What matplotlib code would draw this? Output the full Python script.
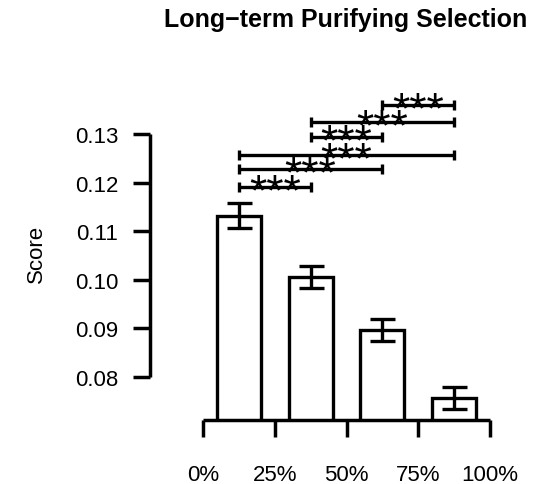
import matplotlib
matplotlib.use("Agg")
import matplotlib.pyplot as plt

plt.rcParams['font.family'] = ['Liberation Sans', 'DejaVu Sans']

# ---- data ----
categories = ["0%", "25%", "50%", "75%", "100%"]
bar_pos = [0.5, 1.5, 2.5, 3.5]
scores = [0.1132, 0.1006, 0.0897, 0.0757]
errors = [0.0026, 0.0022, 0.0022, 0.0022]
comparisons = [(0, 1), (0, 2), (0, 3), (1, 2), (1, 3), (2, 3)]
bracket_heights = [0.1190, 0.1228, 0.1257, 0.1293, 0.1324, 0.1360]
bracket_labels = ["***", "***", "***", "***", "***", "***"]
yticks = [0.08, 0.09, 0.10, 0.11, 0.12, 0.13]
ytick_labels = ["0.08", "0.09", "0.10", "0.11", "0.12", "0.13"]
title = "Long\u2212term Purifying Selection"
ylabel = "Score"

W, H = 536, 485
fig = plt.figure(figsize=(W / 100, H / 100), dpi=100)

# axes in pixel terms
ax_left, ax_right = 150, 490
ax_bottom, ax_top = 421, 80
ax = fig.add_axes([ax_left / W, 1 - ax_bottom / H, (ax_right - ax_left) / W, (ax_bottom - ax_top) / H])

px_per_unit_y = 4860.0
y0 = 0.08 - (ax_bottom - 378) / px_per_unit_y
y1 = 0.08 + (378 - ax_top) / px_per_unit_y
px_per_unit_x = (490 - 203) / 4.0
x0 = -(203 - ax_left) / px_per_unit_x
ax.set_ylim(y0, y1)
ax.set_xlim(x0, 4)

lw = 2.4
ax.bar(bar_pos, scores, width=0.613, facecolor="white", edgecolor="black", linewidth=lw, zorder=2)
ax.errorbar(bar_pos, scores, yerr=errors, fmt="none", ecolor="black", elinewidth=lw,
            capsize=9, capthick=lw, zorder=3)

tick_h = 5 / px_per_unit_y
for (a, b), h, lab in zip(comparisons, bracket_heights, bracket_labels):
    xa, xb = bar_pos[a], bar_pos[b]
    ax.plot([xa, xb], [h, h], color="black", lw=lw, solid_capstyle="butt", clip_on=False, zorder=4)
    ax.plot([xa, xa], [h - tick_h, h + tick_h], color="black", lw=lw, solid_capstyle="butt", clip_on=False, zorder=4)
    ax.plot([xb, xb], [h - tick_h, h + tick_h], color="black", lw=lw, solid_capstyle="butt", clip_on=False, zorder=4)
    ax.annotate(lab, xy=((xa + xb) / 2, h), xytext=(0, -12.5), textcoords="offset points",
                ha="center", va="baseline", fontsize=32, color="black", annotation_clip=False, zorder=5)

for s in ["top", "right"]:
    ax.spines[s].set_visible(False)
ax.spines["left"].set_bounds(0.08, 0.13)
ax.spines["bottom"].set_bounds(0, 4)
for s in ["left", "bottom"]:
    ax.spines[s].set_linewidth(2.5)
    ax.spines[s].set_capstyle("butt")

ax.set_yticks(yticks)
ax.set_yticklabels(ytick_labels)
ax.set_xticks(range(len(categories)))
ax.set_xticklabels(categories)
ax.tick_params(axis="y", direction="out", length=12, width=2.5, pad=11, labelsize=16)
ax.tick_params(axis="x", direction="out", length=12, width=2.5, pad=20, labelsize=16)

fig.text(346 / W, 1 - 20 / H, title, ha="center", va="center", fontsize=18, fontweight="bold")
fig.text(36 / W, 1 - 254 / H, ylabel, ha="center", va="center", rotation=90, fontsize=16)

fig.savefig("out.png", dpi=100)
